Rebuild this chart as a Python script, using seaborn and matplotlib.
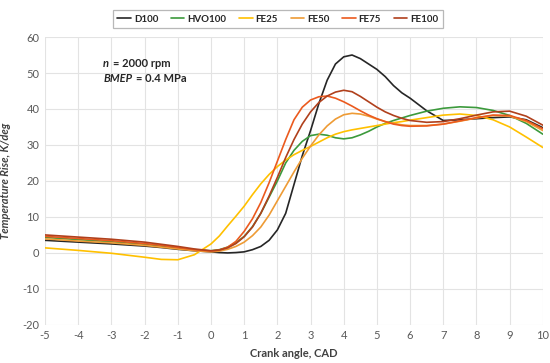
import matplotlib
matplotlib.use("Agg")
import matplotlib.pyplot as plt
from matplotlib.offsetbox import TextArea, HPacker, VPacker, AnnotationBbox
import seaborn as sns
import pandas as pd

# ---------------- data ----------------
crank = [-5, -4, -3, -2, -1.5, -1, -0.5, 0, 0.25, 0.5, 0.75, 1, 1.25, 1.5, 1.75, 2,
         2.25, 2.5, 2.75, 3, 3.25, 3.5, 3.75, 4, 4.25, 4.5, 4.75, 5, 5.25, 5.5, 5.75, 6,
         6.5, 7, 7.5, 8, 8.5, 9, 9.5, 10]

d100 = [3.5, 3.0, 2.5, 1.9, 1.5, 1.0, 0.6, 0.3, 0.1, 0.0, 0.1, 0.3, 0.9, 1.8, 3.5, 6.4,
        11, 19, 27, 34, 41.5, 48, 52.5, 54.5, 55, 54, 52.5, 51, 49, 46.5, 44.5, 43,
        39.5, 36.8, 37, 37.3, 37.6, 37.8, 37, 34.8]
hvo100 = [4.3, 3.7, 3.1, 2.4, 1.9, 1.4, 0.9, 0.6, 0.9, 1.6, 2.8, 4.6, 7.3, 11, 15.5, 20,
          25, 28.5, 31, 32.6, 33, 32.7, 32, 31.7, 32, 32.8, 33.8, 35, 36, 36.8, 37.5, 38.2,
          39.4, 40.2, 40.6, 40.4, 39.6, 38.2, 36, 33]
fe25 = [1.4, 0.7, -0.1, -1.2, -1.8, -1.9, -0.5, 2.5, 4.7, 7.5, 10.2, 13, 16.2, 19.2, 21.8, 24,
        25.8, 27.3, 28.5, 29.6, 30.8, 32, 33, 33.7, 34.2, 34.6, 35, 35.4, 35.8, 36.2, 36.5, 36.9,
        37.6, 38.3, 38.6, 38.2, 37, 35, 32.2, 29.3]
fe50 = [3.9, 3.3, 2.8, 2.1, 1.6, 1.1, 0.6, 0.3, 0.5, 1.0, 1.8, 3.0, 4.8, 7.2, 10.5, 14.5,
        18.5, 22.5, 26.3, 29.7, 32.8, 35.3, 37.2, 38.4, 38.8, 38.6, 38, 37.2, 36.5, 36, 35.6, 35.4,
        35.4, 35.8, 36.6, 37.5, 38.2, 38, 36.5, 34]
fe75 = [4.6, 4.0, 3.4, 2.6, 2.1, 1.5, 0.9, 0.5, 0.8, 1.6, 3.2, 6, 9.5, 14, 19.5, 25.5,
        31.5, 37, 40.5, 42.5, 43.4, 43.6, 43, 42, 40.8, 39.5, 38.3, 37.3, 36.5, 35.8, 35.4, 35.2,
        35.3, 35.8, 36.7, 37.6, 38.3, 38.2, 36.8, 34.5]
fe100 = [5.0, 4.4, 3.8, 3.0, 2.4, 1.8, 1.1, 0.6, 0.8, 1.4, 2.6, 4.5, 7.2, 11, 15.8, 21,
         26.5, 31.5, 35.8, 39.2, 41.8, 43.6, 44.7, 45.2, 44.8, 43.5, 42, 40.5, 39.2, 38.2, 37.4, 36.8,
         36.3, 36.5, 37.3, 38.3, 39.2, 39.4, 38, 35.5]

series_names = ["D100", "HVO100", "FE25", "FE50", "FE75", "FE100"]
series_values = [d100, hvo100, fe25, fe50, fe75, fe100]
x_ticks = list(range(-5, 11))
y_ticks = list(range(-20, 61, 10))

# ---------------- build ----------------
rows = []
for name, vals in zip(series_names, series_values):
    for cx, v in zip(crank, vals):
        rows.append({"crank": cx, "value": v, "fuel": name})
df = pd.DataFrame(rows)

palette = {"D100": "#262626", "HVO100": "#3C9A3C", "FE25": "#FFC000",
           "FE50": "#EE9B35", "FE75": "#EB5A1E", "FE100": "#B0401C"}

sns.set_theme(style="white")
plt.rcParams["font.family"] = ["Lato", "DejaVu Sans"]
plt.rcParams["axes.unicode_minus"] = False

fig, ax = plt.subplots(figsize=(5.5, 3.63), dpi=100)
fig.subplots_adjust(left=0.082, right=0.987, top=0.898, bottom=0.105)

sns.lineplot(data=df, x="crank", y="value", hue="fuel", hue_order=series_names,
             palette=palette, linewidth=1.2, ax=ax, legend=True, sort=True)

ax.set_xlim(-5, 10)
ax.set_ylim(-20, 60)
ax.set_xticks(x_ticks)
ax.set_yticks(y_ticks)
ax.grid(True, color="#e3e3e3", linewidth=0.8)
ax.set_axisbelow(True)
for s in ax.spines.values():
    s.set_visible(False)
ax.tick_params(axis="both", length=0, labelsize=8, labelcolor="#595959", pad=4)

ax.set_xlabel("Crank angle, CAD", fontsize=8, fontweight="bold", color="#404040", labelpad=5)
ax.set_ylabel("Temperature Rise, K/deg", fontsize=8, fontweight="bold", style="italic",
              color="#404040", labelpad=8)

# legend
handles, labels = ax.get_legend_handles_labels()
ax.get_legend().remove()
leg = fig.legend(handles, labels, loc="upper center", bbox_to_anchor=(0.505, 0.985),
                 ncol=6, frameon=True, fancybox=False, fontsize=7, handlelength=1.4,
                 columnspacing=1.3, handletextpad=0.3, borderpad=0.45)
leg.get_frame().set_edgecolor("#a6a6a6")
leg.get_frame().set_linewidth(0.9)
for t in leg.get_texts():
    t.set_fontweight("bold")
    t.set_color("#262626")

# annotation
tp_b = dict(fontsize=8, fontweight="bold", color="#262626")
tp_bi = dict(fontsize=8, fontweight="bold", style="italic", color="#262626")
line1 = HPacker(children=[TextArea("n", textprops=tp_bi), TextArea("= 2000 rpm", textprops=tp_b)],
                sep=3, pad=0, align="baseline")
line2 = HPacker(children=[TextArea("BMEP", textprops=tp_bi), TextArea("= 0.4 MPa", textprops=tp_b)],
                sep=3, pad=0, align="baseline")
box = VPacker(children=[line1, line2], sep=3, pad=0, align="left")
ab = AnnotationBbox(box, (-3.25, 54.2), xycoords="data", box_alignment=(0, 1),
                    frameon=False, pad=0)
ax.add_artist(ab)

fig.savefig("out.png", dpi=100)
